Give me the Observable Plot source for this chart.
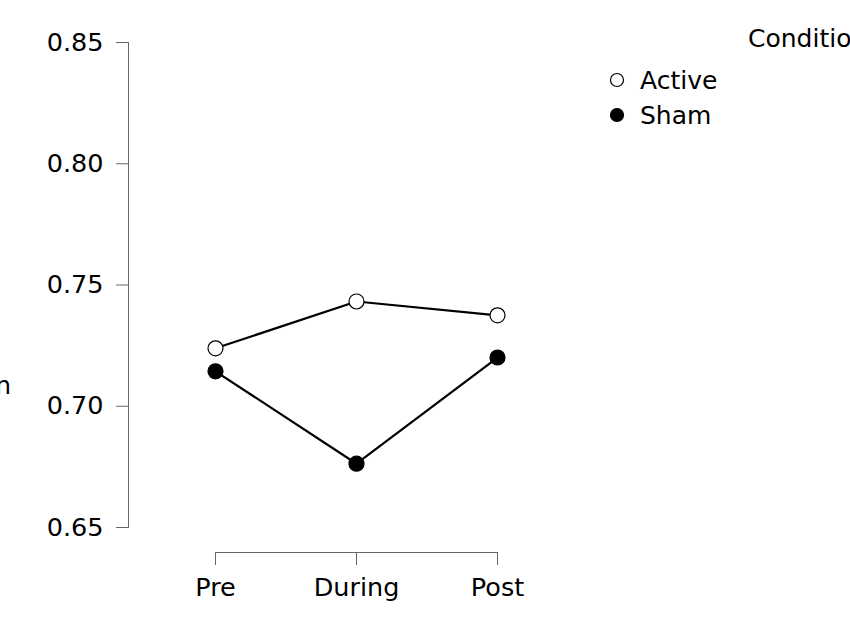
<!DOCTYPE html>
<html>
<head>
<meta charset="utf-8">
<script src="https://cdn.jsdelivr.net/npm/d3@7"></script>
<script src="https://cdn.jsdelivr.net/npm/@observablehq/plot@0.6"></script>
<style>
  html, body { margin: 0; padding: 0; background: white; overflow: hidden; }
  #chart svg { display: block; overflow: hidden; }
</style>
</head>
<body>
<div id="chart"></div>
<script>
const times = ["Pre", "During", "Post"];
const conditions = ["Active", "Sham"];
const activeValues = [0.7239, 0.7432, 0.7375];
const shamValues = [0.7144, 0.6763, 0.7201];
const yTicks = [0.65, 0.70, 0.75, 0.80, 0.85];
const yTitle = "Mean";
const xTitle = "Time";
const legendTitle = "Condition";

const data = [];
times.forEach((t, i) => {
  data.push({time: t, condition: "Active", value: activeValues[i]});
  data.push({time: t, condition: "Sham", value: shamValues[i]});
});

const font = "DejaVu Sans, sans-serif";
const axisColor = "#666";

const plot = Plot.plot({
  width: 850,
  height: 625,
  marginTop: 42,
  marginBottom: 98,
  marginLeft: 128,
  marginRight: 40,
  x: {type: "point", domain: times, range: [214, 497], padding: 0},
  y: {domain: [0.65, 0.85]},
  color: {domain: conditions, range: ["white", "black"]},
  style: {fontFamily: font, fontSize: "25.5px", color: "black", background: "white"},
  marks: [
    Plot.frame({anchor: "left", stroke: axisColor}),
    Plot.axisY({ticks: yTicks, tickFormat: d3.format(".2f"), tickSize: 12, tickPadding: 13,
                label: null, stroke: axisColor, fill: "black", fontSize: 25.5}),
    Plot.ruleY([{a: times[0], b: times[times.length - 1]}],
               {y: () => 0.65, x1: "a", x2: "b", dy: 25, stroke: axisColor}),
    Plot.axisX({tickSize: 13, tickPadding: 12, dy: 25, label: null,
                stroke: axisColor, fill: "black", fontSize: 25.5}),
    Plot.line(data, {x: "time", y: "value", z: "condition", stroke: "black", strokeWidth: 2.2}),
    Plot.dot(data, {x: "time", y: "value", r: 7.5, fill: "condition", stroke: "black", strokeWidth: 1.2})
  ]
});

document.getElementById("chart").appendChild(plot);

const svg = d3.select(plot);
// cropped axis titles (as in the reference, they lie partly outside the picture)
svg.append("text").attr("x", 11).attr("y", 394).attr("text-anchor", "end")
  .attr("font-family", font).attr("font-size", 25).attr("fill", "black").text(yTitle);
svg.append("text").attr("x", 355).attr("y", 644).attr("text-anchor", "middle")
  .attr("font-family", font).attr("font-size", 25).attr("fill", "black").text(xTitle);

// legend
const lg = svg.append("g").attr("text-anchor", "start");
lg.append("text").attr("x", 748).attr("y", 47).attr("text-anchor", "start").attr("font-family", font)
  .attr("font-size", 25).attr("fill", "black").text(legendTitle);
const legendFill = {Active: "white", Sham: "black"};
conditions.forEach((c, i) => {
  const cy = 80 + i * 35;
  lg.append("circle").attr("cx", 617).attr("cy", cy).attr("r", 6.5)
    .attr("fill", legendFill[c]).attr("stroke", "black").attr("stroke-width", 1.2);
  lg.append("text").attr("x", 640).attr("y", cy + 9).attr("text-anchor", "start").attr("font-family", font)
    .attr("font-size", 25).attr("fill", "black").text(c);
});
</script>
</body>
</html>
